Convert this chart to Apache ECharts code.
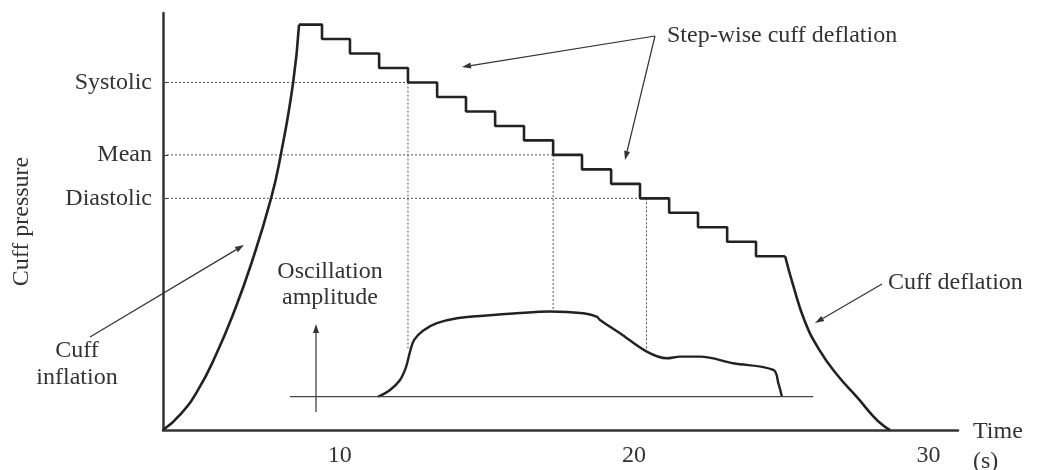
<!DOCTYPE html>
<html>
<head>
<meta charset="utf-8">
<script src="https://cdn.jsdelivr.net/npm/echarts@6/dist/echarts.min.js"></script>
<style>
html,body{margin:0;padding:0;background:#fff;}
#c{width:1040px;height:470px;}
</style>
</head>
<body>
<div id="c"></div>
<script>
// ---- data ----
const yLabelValues = [120, 95, 80];
const yLabelNames = ['Systolic', 'Mean', 'Diastolic'];
const xTickValues = [10, 20, 30];

const inflationTime = [4.00, 4.60, 5.20, 5.80, 6.40, 7.00, 7.67, 8.00, 8.42, 8.62];
const inflationPressure = [0, 5.5, 14, 26, 40.5, 57.5, 80, 95, 120, 140];

const stepStartTimes = [8.62, 9.40, 10.35, 11.34, 12.32, 13.31, 14.29, 15.28, 16.26, 17.25, 18.23, 19.22, 20.20, 21.19, 22.17, 23.16, 24.14];
const stepLevels = [140, 135, 130, 125, 120, 115, 110, 105, 100, 95, 90, 85, 80, 75, 70, 65, 60];
const stepEndTime = 25.13;

const deflationTime = [25.13, 25.40, 25.80, 26.30, 26.90, 27.60, 28.10, 28.45, 28.69];
const deflationPressure = [60, 50, 37.5, 27.5, 19, 11, 5, 1.6, 0];

const ampTime = [11.31, 11.71, 12.05, 12.25, 12.39, 12.53, 12.83, 13.30, 13.98, 14.88, 16.01, 17.15, 18.28, 18.73, 18.84, 19.52, 20.43, 21.11, 21.56, 22.24, 23.37, 24.73, 24.90, 25.02];
const ampValue = [0, 0.8, 2.0, 3.5, 5.4, 6.8, 7.9, 8.8, 9.4, 9.7, 10.0, 10.2, 10.0, 9.6, 9.2, 7.6, 5.4, 4.6, 4.8, 4.8, 4.0, 3.2, 1.6, 0];
const baselineTime = [8.31, 26.08];

const guideTimes = [12.32, 17.25, 20.42];
const guideLevels = [120, 95, 80];
const guideAmps = [5.6, 10.2, 5.4];

// ---- axes ranges ----
const X_MIN = 4, X_MAX = 31;
const P_MIN = 0, P_MAX = 144;
const A_MIN = -4, A_MAX = 46;
const pToA = p => A_MIN + (p - P_MIN) * (A_MAX - A_MIN) / (P_MAX - P_MIN);

const FONT = '"Liberation Serif", "DejaVu Serif", serif';
const INK = '#222';
const TXT = '#333';

const zip = (a, b) => a.map((v, i) => [v, b[i]]);

const stepData = zip(stepStartTimes, stepLevels).concat([[stepEndTime, stepLevels[stepLevels.length - 1]]]);

const mainLine = { color: INK, width: 2.6 };
const guideStyle = { color: '#555', width: 1, type: [2, 2] };

const series = [
  { type: 'line', data: zip(inflationTime, inflationPressure), smooth: 0.5, symbol: 'none', lineStyle: mainLine, xAxisIndex: 0, yAxisIndex: 0 },
  { type: 'line', data: stepData, step: 'end', symbol: 'none', lineStyle: mainLine, xAxisIndex: 0, yAxisIndex: 0 },
  { type: 'line', data: zip(deflationTime, deflationPressure), smooth: 0.5, symbol: 'none', lineStyle: mainLine, xAxisIndex: 0, yAxisIndex: 0 },
  { type: 'line', data: zip(ampTime, ampValue), smooth: 0.35, symbol: 'none', lineStyle: { color: INK, width: 2.4 }, xAxisIndex: 0, yAxisIndex: 1 },
  { type: 'line', data: baselineTime.map(t => [t, 0]), symbol: 'none', lineStyle: { color: '#444', width: 1.4 }, xAxisIndex: 0, yAxisIndex: 1 }
];
guideTimes.forEach((t, i) => {
  series.push({ type: 'line', data: [[X_MIN, guideLevels[i]], [t, guideLevels[i]]], symbol: 'none', lineStyle: guideStyle, xAxisIndex: 0, yAxisIndex: 0, z: 1 });
  series.push({ type: 'line', data: [[t, pToA(guideLevels[i])], [t, guideAmps[i]]], symbol: 'none', lineStyle: guideStyle, xAxisIndex: 0, yAxisIndex: 1, z: 1 });
});

// ---- annotations (pixel positions) ----
function arrow(x1, y1, x2, y2, w) {
  const dx = x2 - x1, dy = y2 - y1, len = Math.hypot(dx, dy);
  const ux = dx / len, uy = dy / len, nx = -uy, ny = ux;
  const L = 9, W = 3;
  const bx = x2 - ux * L, by = y2 - uy * L;
  return [
    { type: 'line', shape: { x1: x1, y1: y1, x2: bx, y2: by }, style: { stroke: TXT, lineWidth: w || 1.2 }, silent: true },
    { type: 'polygon', shape: { points: [[x2, y2], [bx + nx * W, by + ny * W], [bx - nx * W, by - ny * W]] }, style: { fill: TXT }, silent: true }
  ];
}
function label(text, x, y, align, lh) {
  return { type: 'text', x: x, y: y, silent: true,
    style: { text: text, font: '24px ' + FONT, fill: TXT, align: align || 'left', verticalAlign: 'middle', lineHeight: lh || 27 } };
}

const graphic = [].concat(
  [label('Step-wise cuff deflation', 667, 36)],
  arrow(655, 36, 462, 67),
  arrow(655, 36, 625, 160),
  [label('Cuff deflation', 888, 283)],
  arrow(882, 284, 815, 323),
  [label('Cuff\ninflation', 77, 364, 'center', 27)],
  arrow(90, 337, 244, 245),
  [label('Oscillation\namplitude', 330, 285, 'center', 26)],
  arrow(316, 412, 316, 324, 1.2),
  [label('Time\n(s)', 973, 447, 'left', 30)]
);

const chart = echarts.init(document.getElementById('c'), null, { renderer: 'canvas' });
chart.setOption({
  animation: false,
  backgroundColor: '#fff',
  grid: { left: 163, right: 82, top: 13, bottom: 40, containLabel: false, outerBoundsMode: 'none' },
  xAxis: {
    type: 'value', min: X_MIN, max: X_MAX,
    axisLine: { show: true, lineStyle: { color: '#333', width: 2.5 } },
    axisTick: { show: false },
    splitLine: { show: false },
    axisLabel: { customValues: xTickValues, margin: 14, fontSize: 24, fontFamily: FONT, color: TXT }
  },
  yAxis: [
    {
      type: 'value', min: P_MIN, max: P_MAX,
      name: 'Cuff pressure', nameLocation: 'middle', nameRotate: 90, nameGap: 129,
      nameTextStyle: { fontSize: 24, fontFamily: FONT, color: TXT },
      axisLine: { show: true, lineStyle: { color: '#333', width: 2.5 } },
      axisTick: { show: true, customValues: yLabelValues, inside: true, length: 5, lineStyle: { color: '#333', width: 1 } },
      splitLine: { show: false },
      axisLabel: {
        customValues: yLabelValues, margin: 11, fontSize: 24, fontFamily: FONT, color: TXT,
        formatter: v => yLabelNames[yLabelValues.indexOf(v)] || ''
      }
    },
    { type: 'value', min: A_MIN, max: A_MAX, show: false, splitLine: { show: false } }
  ],
  series: series,
  graphic: graphic
});
</script>
</body>
</html>
